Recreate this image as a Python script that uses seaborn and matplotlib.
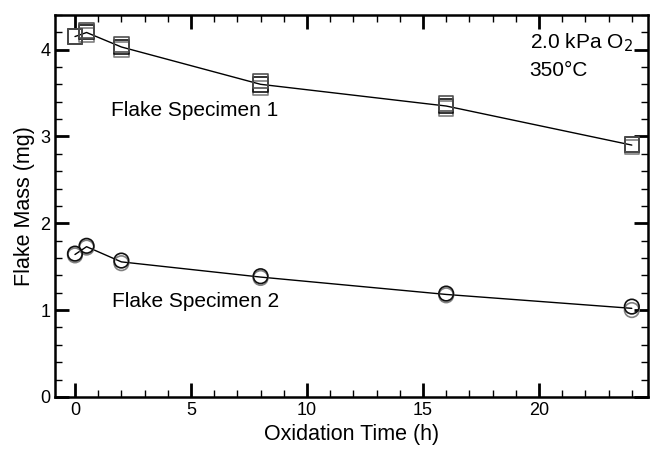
import numpy as np
import pandas as pd
import matplotlib
matplotlib.use("Agg")
import matplotlib.pyplot as plt
from matplotlib.ticker import MultipleLocator
import seaborn as sns

# Oxidation times (h)
times = [0, 0.5, 2, 8, 16, 24]
# Replicate flake-mass readings (mg) for each time
spec1_rep_a = [4.15, 4.17, 4.00, 3.56, 3.32, 2.88]
spec1_rep_b = [4.15, 4.20, 4.03, 3.60, 3.35, 2.91]
spec1_rep_c = [4.15, 4.22, 4.06, 3.64, 3.38, 2.91]
spec2_rep_a = [1.63, 1.72, 1.54, 1.37, 1.17, 1.00]
spec2_rep_b = [1.65, 1.74, 1.57, 1.39, 1.19, 1.04]

sns.set_theme(style="ticks")
plt.rcParams['font.family'] = ['Liberation Sans', 'DejaVu Sans']
plt.rcParams['text.color'] = 'black'
plt.rcParams['axes.labelcolor'] = 'black'
plt.rcParams['xtick.color'] = 'black'
plt.rcParams['ytick.color'] = 'black'

fig, ax = plt.subplots(figsize=(6.5, 4.5), dpi=100)
fig.subplots_adjust(left=0.085, right=0.997, top=0.967, bottom=0.118)

rows = []
for spec, reps in (("1", [spec1_rep_a, spec1_rep_b, spec1_rep_c]),
                   ("2", [spec2_rep_a, spec2_rep_b])):
    for r, vals in enumerate(reps):
        for t, v in zip(times, vals):
            rows.append({"time": t, "mass": v, "spec": spec, "rep": r})
df = pd.DataFrame(rows)

for spec in ("1", "2"):
    d = df[df.spec == spec]
    sns.lineplot(data=d, x="time", y="mass", estimator="mean", errorbar=None,
                 color="black", lw=1.0, ax=ax, zorder=2)

rep_colors = ["#808080", "#101010", "#505050"]
for spec, marker in (("1", "s"), ("2", "o")):
    d = df[df.spec == spec]
    for r in sorted(d.rep.unique()):
        dr = d[d.rep == r]
        sns.scatterplot(data=dr, x="time", y="mass", marker=marker, s=110,
                        facecolors="none", edgecolor=rep_colors[r % 3],
                        linewidth=1.2, ax=ax, zorder=3)

ax.set_xlim(-0.85, 24.7)
ax.set_ylim(0, 4.4)
ax.xaxis.set_major_locator(MultipleLocator(5))
ax.xaxis.set_minor_locator(MultipleLocator(1))
ax.yaxis.set_major_locator(MultipleLocator(1))
ax.yaxis.set_minor_locator(MultipleLocator(0.2))
ax.tick_params(which="both", direction="in", top=True, right=True,
               labelsize=13, colors="black")
ax.tick_params(which="major", length=10, width=2)
ax.tick_params(which="minor", length=5, width=1)
for s in ax.spines.values():
    s.set_linewidth(1.8)
    s.set_color("black")

ax.set_xlabel("Oxidation Time (h)", fontsize=15.5, labelpad=4, color="black")
ax.set_ylabel("Flake Mass (mg)", fontsize=15.5, labelpad=4, color="black")

ax.text(1.55, 3.3, "Flake Specimen 1", fontsize=15, va="center", color="black")
ax.text(1.6, 1.1, "Flake Specimen 2", fontsize=15, va="center", color="black")
ax.text(19.6, 4.08, "2.0 kPa O$_2$", fontsize=15, va="center", color="black")
ax.text(19.6, 3.76, "350°C", fontsize=15, va="center", color="black")

fig.savefig("out.png", dpi=100)
